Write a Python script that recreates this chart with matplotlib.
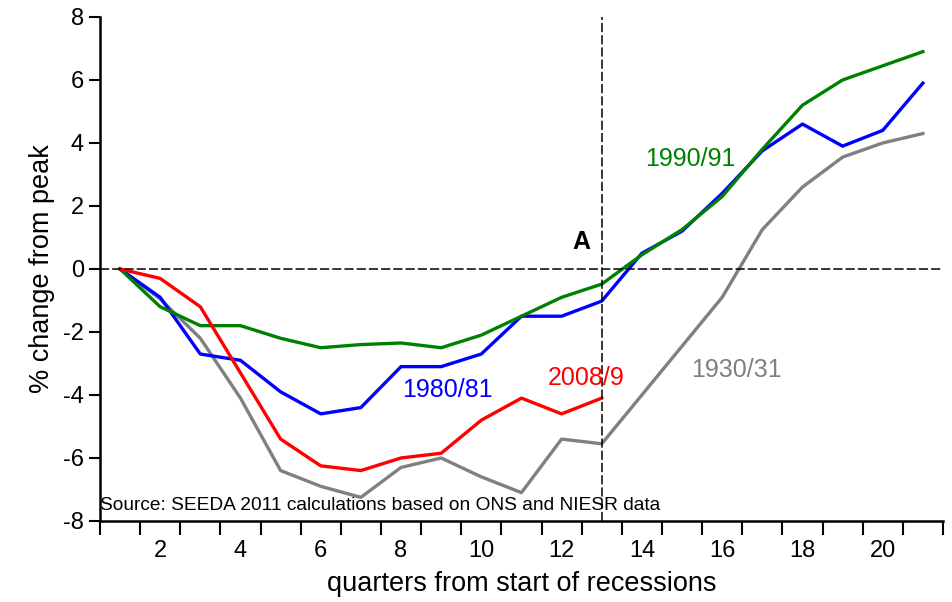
import numpy as np
import matplotlib.pyplot as plt

plt.rcParams['font.family'] = ['Liberation Sans', 'DejaVu Sans']
plt.rcParams['axes.unicode_minus'] = False

# quarters from start of recession
quarters = list(range(1, 22))
quarters_0809 = list(range(1, 14))

r1930 = [0, -0.95, -2.2, -4.1, -6.4, -6.9, -7.25, -6.3, -6.0, -6.6, -7.1,
         -5.4, -5.55, -4.0, -2.45, -0.9, 1.25, 2.6, 3.55, 4.0, 4.3]
r1980 = [0, -0.9, -2.7, -2.9, -3.9, -4.6, -4.4, -3.1, -3.1, -2.7, -1.5,
         -1.5, -1.02, 0.5, 1.2, 2.4, 3.75, 4.6, 3.9, 4.4, 5.9]
r1990 = [0, -1.2, -1.8, -1.8, -2.2, -2.5, -2.4, -2.35, -2.5, -2.1, -1.5,
         -0.9, -0.48, 0.45, 1.25, 2.3, 3.8, 5.2, 6.0, 6.45, 6.9]
r2008 = [0, -0.3, -1.2, -3.3, -5.4, -6.25, -6.4, -6.0, -5.85, -4.8, -4.1,
         -4.6, -4.1]

xticks = [2, 4, 6, 8, 10, 12, 14, 16, 18, 20]
yticks = [-8, -6, -4, -2, 0, 2, 4, 6, 8]

fig = plt.figure(figsize=(9.52, 6.02), dpi=100)
ax = fig.add_axes([0.105, 0.1346, 0.8855, 0.8372])

lw = 2.4
ax.plot(quarters, r1930, color="#808080", lw=lw)
ax.plot(quarters, r1980, color="#0000FF", lw=lw)
ax.plot(quarters, r1990, color="#008000", lw=lw)
ax.plot(quarters_0809, r2008, color="#FF0000", lw=lw)

# reference lines
ax.axhline(0, color="black", lw=1.1, ls=(0, (6, 2)))
ax.axvline(13, color="black", lw=1.1, ls=(0, (6, 2)))

# labels on the lines
ax.text(15.2, 3.5, "1990/91", color="#008000", fontsize=18, ha="center", va="center")
ax.text(9.15, -3.85, "1980/81", color="#0000FF", fontsize=18, ha="center", va="center")
ax.text(12.6, -3.45, "2008/9", color="#FF0000", fontsize=18, ha="center", va="center")
ax.text(16.35, -3.2, "1930/31", color="#808080", fontsize=18, ha="center", va="center")
ax.text(12.5, 0.85, "A", color="black", fontsize=18, fontweight="bold", ha="center", va="center")
ax.text(0.5, -7.5, "Source: SEEDA 2011 calculations based on ONS and NIESR data",
        fontsize=13.8, ha="left", va="center")

ax.set_xlim(0.5, 21.5)
ax.set_ylim(-8, 8)

ax.set_xticks(xticks)
ax.set_xticks(np.arange(0.5, 22, 1), minor=True)
ax.tick_params(axis="x", which="major", length=0, labelsize=17, pad=14)
ax.tick_params(axis="x", which="minor", length=10, width=1.5, direction="out")
ax.set_yticks(yticks)
ax.tick_params(axis="y", length=8, width=1.5, labelsize=17, direction="out")

for s in ["top", "right"]:
    ax.spines[s].set_visible(False)
for s in ["left", "bottom"]:
    ax.spines[s].set_linewidth(1.8)

ax.set_xlabel("quarters from start of recessions", fontsize=19.5, labelpad=6)
ax.set_ylabel("% change from peak", fontsize=19.5, labelpad=6)

fig.savefig("out.png", dpi=100)
